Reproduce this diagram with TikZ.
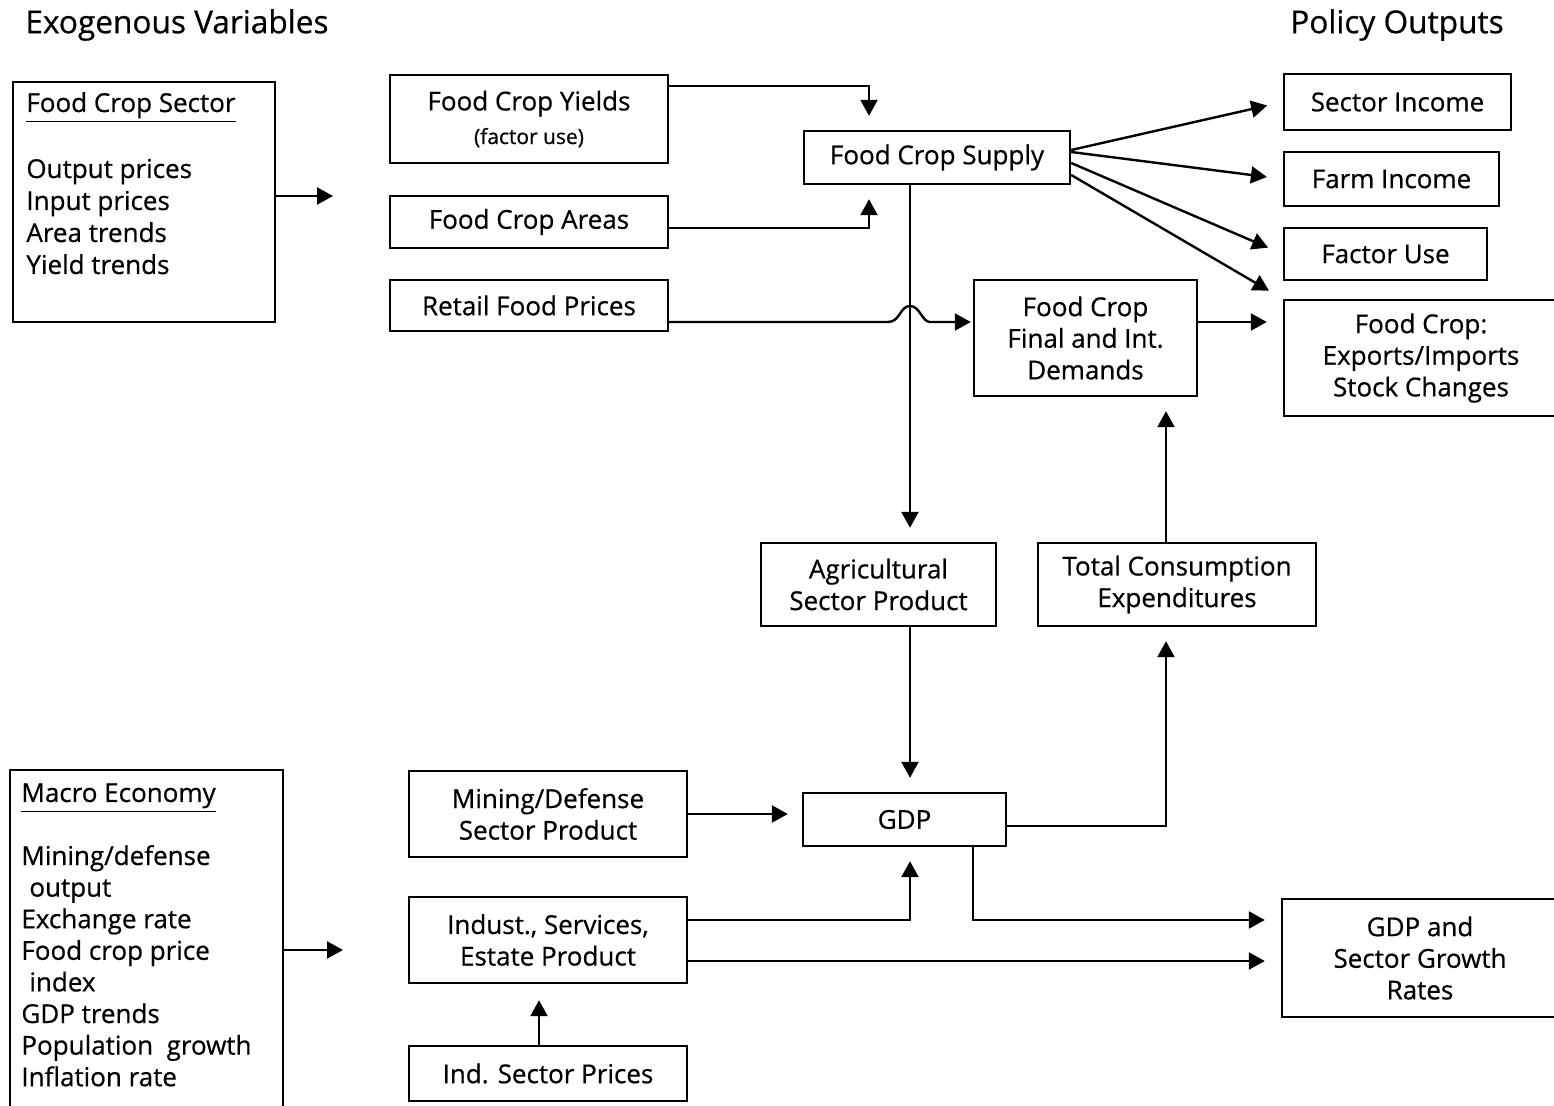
\documentclass[tikz,border=0pt]{standalone}
\usepackage{fontspec}
\setmainfont{Open Sans}[FakeBold=0.6]
\usetikzlibrary{arrows.meta,calc}

\begin{document}
\begin{tikzpicture}[x=0.5pt,y=-0.5pt,
  font=\fontsize{13}{15.8}\selectfont,
  box/.style={draw,line width=1.2pt,align=center,inner sep=0pt},
  arr/.style={line width=1.2pt,-{Triangle[length=8pt,width=8.5pt]},shorten >=7pt},
  lbl/.style={anchor=base west,inner sep=0pt}]
  \clip (0,0) rectangle (1554,1106);
  \fill[white] (0,0) rectangle (1554,1106);

  % Titles
  \node[anchor=west,inner sep=0pt,font=\fontsize{15.8}{18}\selectfont] (exotitle) at (25,25) {Exogenous Variables};
  \node[font=\fontsize{15.8}{18}\selectfont] (poltitle) at (1397,25) {Policy Outputs};

  % Exogenous blocks
  \node[box,minimum width=131pt,minimum height=120pt] (sectorbox) at (144,202) {};
  \node[lbl] (sectitle) at (26,112) {\underline{Food Crop Sector}};
  \foreach \t [count=\i] in {Output prices,Input prices,Area trends,Yield trends}
  \node[lbl] (sec\i) at (26,146+32*\i) {\t};

  \node[box,minimum width=136.5pt,minimum height=175pt] (macrobox) at (146.5,945) {};
  \node[lbl] (mactitle) at (21,802) {\underline{Macro Economy}};
  \foreach \t [count=\i] in {Mining/defense,\hspace{4pt}output,Exchange rate,Food crop price,\hspace{4pt}index,GDP trends,Population\ \ growth,Inflation rate}
  \node[lbl] (mac\i) at (21,833.4+31.6*\i) {\t};

  % Food crop sector
  \node[box,minimum width=139pt,minimum height=44pt] (yields) at (529,119) {Food Crop Yields\\[1pt]{\fontsize{10.5}{11}\selectfont (factor use)}};
  \node[box,minimum width=139pt,minimum height=26pt] (areas) at (529,222) {Food Crop Areas};
  \node[box,minimum width=139pt,minimum height=25.5pt] (retail) at (529,305.5) {Retail Food Prices};
  \node[box,minimum width=133pt,minimum height=26.5pt] (supply) at (937,157.5) {Food Crop Supply};
  \node[box,minimum width=111.5pt,minimum height=58pt] (demand) at (1085.5,338) {Food Crop\\Final and Int.\\Demands};
  \node[box,minimum width=117.5pt,minimum height=41.5pt] (agri) at (878.5,584.5) {Agricultural\\Sector Product};
  \node[box,minimum width=139pt,minimum height=41.5pt] (totcons) at (1177,584.5) {Total Consumption\\Expenditures};

  % Policy outputs
  \node[box,minimum width=113.5pt,minimum height=28pt] (secinc) at (1397.5,102) {Sector Income};
  \node[box,minimum width=107.5pt,minimum height=27pt] (farminc) at (1391.5,179) {Farm Income};
  \node[box,minimum width=101.5pt,minimum height=26pt] (factor) at (1385.5,254) {Factor Use};
  \node[box,minimum width=137pt,minimum height=58pt] (trade) at (1421,358) {Food Crop:\\Exports/Imports\\Stock Changes};
  \node[box,minimum width=138pt,minimum height=59pt] (gdpgr) at (1420,958) {GDP and\\Sector Growth\\Rates};

  % Macro sector
  \node[box,minimum width=101.5pt,minimum height=26.5pt] (gdp) at (904.5,819.5) {GDP};
  \node[box,minimum width=139pt,minimum height=43pt] (mining) at (548,814) {Mining/Defense\\Sector Product};
  \node[box,minimum width=139pt,minimum height=43pt] (indust) at (548,940) {Indust., Services,\\Estate Product};
  \node[box,minimum width=139pt,minimum height=27.5pt] (indprice) at (548,1073.5) {Ind. Sector Prices};

  \coordinate (secend) at (333,196);
  \coordinate (macend) at (343,950);
  \draw[arr,shorten >=0pt] (sectorbox.east |- secend) -- (secend);
  \draw[arr,shorten >=0pt] (macrobox.east |- macend) -- (macend);

  % Supply side
  \draw[arr] ($(yields.north east)+(0,12)$) -| ($(supply.north)+(-68,0)$);
  \draw[arr] ($(areas.east)+(0,6)$) -| ($(supply.south)+(-68,0)$);
  \draw[arr] ($(supply.south)+(-27,0)$) coordinate (s1) -- (s1 |- agri.north);
  \coordinate (r1) at ($(retail.east)+(0,16.5)$);
  \draw[arr,shorten >=1pt] (r1) -- ($(r1 -| s1)+(-22,0)$)
    .. controls +(12,0) and +(-10,0) .. ++(22,-16)
    .. controls +(10,0) and +(-8,0) .. ++(20,16) -- (r1 -| demand.west);

  % Outputs
  \draw[arr,shorten >=8pt] ($(supply.east)+(0,-7.5)$) -- (secinc.west);
  \draw[arr,shorten >=8pt] ($(supply.east)+(0,-5.5)$) -- (farminc.west);
  \draw[arr,shorten >=8pt] ($(supply.east)+(0,5.5)$) -- (factor.west);
  \draw[arr,shorten >=8pt] ($(supply.east)+(0,17.5)$) -- (trade.north west);
  \coordinate (d1) at ($(demand.east)+(0,-16)$);
  \draw[arr,shorten >=8pt] (d1) -- (d1 -| trade.west);

  % GDP
  \draw[arr] (s1 |- agri.south) -- (s1 |- gdp.north);
  \draw[arr] (mining.east) -- (mining.east -| gdp.west);
  \coordinate (i1) at ($(indust.east)+(0,-20)$);
  \coordinate (i2) at ($(indust.east)+(0,21)$);
  \draw[arr] (i1) -| (s1 |- gdp.south);
  \draw[arr,shorten >=8pt] (i2) -- (i2 -| gdpgr.west);
  \draw[arr,shorten >=8pt] ($(gdp.south)+(68.5,0)$) |- (i1 -| gdpgr.west);
  \draw[arr] ($(gdp.east)+(0,6.5)$) -| ($(totcons.south)+(-11,0)$);
  \draw[arr] ($(totcons.north)+(-11,0)$) coordinate (t1) -- (t1 |- demand.south);
  \draw[arr,shorten >=8pt] ($(indprice.north)+(-9,0)$) coordinate (p1) -- (p1 |- indust.south);

\end{tikzpicture}
\end{document}
